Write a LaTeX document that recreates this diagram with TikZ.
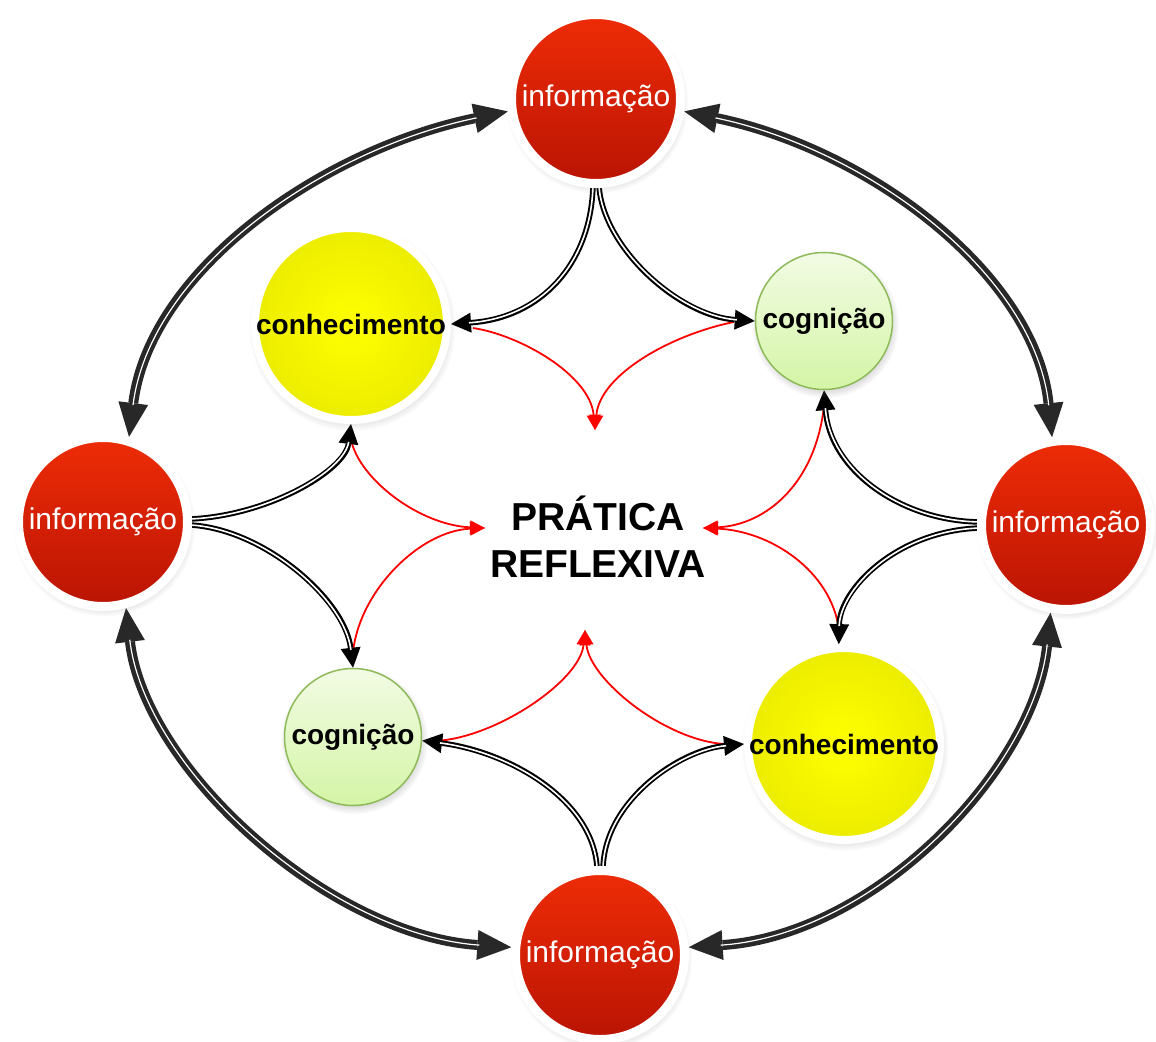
\documentclass[tikz,border=0pt]{standalone}
\usepackage{fontspec}
\setmainfont{Liberation Sans}
\usetikzlibrary{arrows.meta,shadows,calc}
\definecolor{redtop}{RGB}{238,44,6}
\definecolor{redbot}{RGB}{186,20,4}
\definecolor{yelin}{RGB}{255,255,0}
\definecolor{yelout}{RGB}{236,236,0}
\definecolor{grtop}{RGB}{242,251,228}
\definecolor{grbot}{RGB}{212,245,166}
\definecolor{grline}{RGB}{142,186,90}
\definecolor{arcgray}{RGB}{40,40,40}
\definecolor{redline}{RGB}{255,0,0}
\pgfdeclarelayer{bg}
\pgfsetlayers{bg,main}
\begin{document}
\begin{tikzpicture}[x=1pt,y=-1pt,
  shad/.style={circular drop shadow={shadow scale=1.08, shadow xshift=1pt, shadow yshift=-3pt, opacity=0.35}},
  info/.style={circle, minimum size=169pt, inner sep=0pt, draw=white, line width=9pt,
    top color=redtop, bottom color=redbot, text=white, font=\fontsize{30}{32}\selectfont, shad},
  know/.style={circle, minimum size=192pt, inner sep=0pt, draw=white, line width=8pt,
    inner color=yelin, outer color=yelout, font=\bfseries\fontsize{28}{30}\selectfont, shad},
  cogn/.style={circle, minimum size=137pt, inner sep=0pt, draw=grline, line width=1.5pt,
    top color=grtop, bottom color=grbot, font=\bfseries\fontsize{28}{30}\selectfont, shad},
  bigarc/.style={draw=arcgray, line width=10pt,
    {Triangle[length=34pt,width=30pt,line width=0pt]}-{Triangle[length=34pt,width=30pt,line width=0pt]},
    postaction={draw=white, line width=1.2pt, -, shorten <=32pt, shorten >=32pt}},
  dbl/.style={draw=black, line width=5.5pt, -{Triangle[length=20pt,width=20pt,line width=0pt]},
    postaction={draw=white, line width=1.6pt, -, shorten >=18pt}},
  redarc/.style={draw=redline, line width=1.8pt, -{Triangle[length=15pt,width=14pt,line width=0pt]}},
  title/.style={align=center, font=\bfseries\fontsize{39}{47}\selectfont}
]
\useasboundingbox (0,0) rectangle (1156,1041);

\node[info] (top) at (596,99) {informação};
\node[info] (left) at (103,522) {informação};
\node[info] (right) at (1066,525) {informação};
\node[info] (bot) at (600,955) {informação};
\node[know] (ktl) at (351,324) {conhecimento};
\node[cogn] (ctr) at (824,321) {cognição};
\node[cogn] (cbl) at (353,737) {cognição};
\node[know] (kbr) at (844,744) {conhecimento};
\node[title] (pr) at (598,537) {PRÁTICA\\REFLEXIVA};

\coordinate (ct) at (595,430);
\coordinate (cl) at (485,528);
\coordinate (cr) at (703,528);
\coordinate (cb) at (585,630);

\begin{pgfonlayer}{bg}
% outer arcs
\draw[bigarc] (top.188) .. controls (322,150) and (150,270) .. (left.73);
\draw[bigarc] (top.352) .. controls (870,150) and (1035,275) .. (right.99);
\draw[bigarc] (left.-75) .. controls (145,770) and (330,935) .. (bot.175);
\draw[bigarc] (bot.5) .. controls (875,935) and (1034,770) .. (right.-100);
% red arcs
\draw[redarc] ($(ktl.0)+(22,4)$) .. controls (520,335) and (590,375) .. (ct);
\draw[redarc] ($(ctr.180)+(-21,1)$) .. controls (670,335) and (600,375) .. (ct);
\draw[redarc] ($(ktl.-90)+(0,16)$) .. controls (360,480) and (420,525) .. (cl);
\draw[redarc] ($(cbl.90)+(0,-16)$) .. controls (360,590) and (420,531) .. (cl);
\draw[redarc] ($(ctr.-90)+(0,16)$) .. controls (815,485) and (765,525) .. (cr);
\draw[redarc] ($(kbr.93)+(0,-16)$) .. controls (830,570) and (770,531) .. (cr);
\draw[redarc] ($(cbl.-3)+(18,0)$) .. controls (500,735) and (580,680) .. (cb);
\draw[redarc] ($(kbr.180)+(-20,0)$) .. controls (665,740) and (590,680) .. (cb);
% inner double connectors
\draw[dbl] (top.268) .. controls (590,265) and (540,318) .. (ktl.0);
\draw[dbl] (top.272) .. controls (605,250) and (680,316) .. (ctr.180);
\draw[dbl] (left.2) .. controls (270,515) and (345,470) .. (ktl.-90);
\draw[dbl] (left.-2) .. controls (265,530) and (345,600) .. (cbl.90);
\draw[dbl] (right.178) .. controls (900,520) and (830,470) .. (ctr.-90);
\draw[dbl] (right.182) .. controls (895,532) and (840,590) .. (kbr.93);
\draw[dbl] (bot.92) .. controls (592,800) and (510,752) .. (cbl.-3);
\draw[dbl] (bot.88) .. controls (606,800) and (680,750) .. (kbr.180);
\end{pgfonlayer}
\end{tikzpicture}
\end{document}
